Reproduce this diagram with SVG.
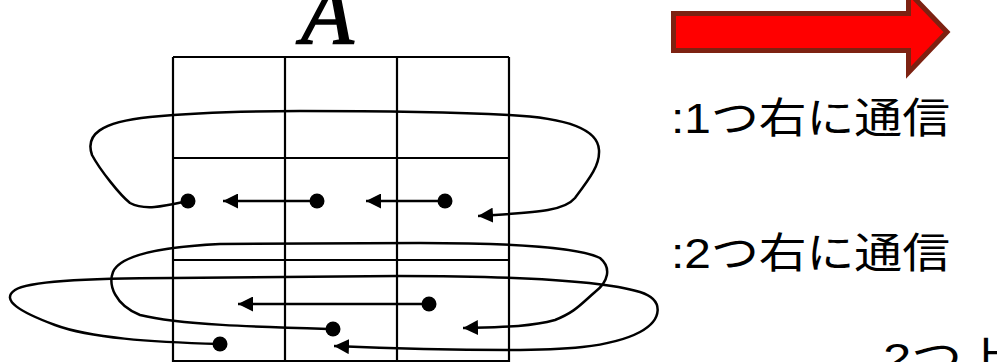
<svg xmlns="http://www.w3.org/2000/svg" width="997" height="362" viewBox="0 0 997 362">
<style>
.grid{stroke:#000;stroke-width:2.2;fill:none}
.conn{stroke:#000;stroke-width:2.5;fill:none}
.dot{fill:#000}
.lbl{font-family:"Liberation Sans","Noto Sans CJK JP",sans-serif;font-size:42px;fill:#000}
.title{font-family:"Liberation Serif",serif;font-style:italic;font-size:86px;fill:#000;stroke:#000;stroke-width:1.6}
</style>
<defs>
<marker id="ah" markerWidth="16" markerHeight="15" refX="15" refY="7.5" orient="auto" markerUnits="userSpaceOnUse">
<path d="M0,0 L15,7.5 L0,15 Z" fill="#000"/>
</marker>
</defs>
<rect width="997" height="362" fill="#fff"/>
<g id="title"><text class="title" x="301" y="43">A</text></g>
<g id="grid" class="grid">
<path d="M173,57 V362 M285,57 V362 M397,57 V362 M509,57 V362"/>
<path d="M173,57 H509 M173,158 H509 M173,260 H509 M173,361 H509"/>
</g>
<g id="legend-arrow">
<path d="M673.5,13.5 H908.5 V-8 L947,32 L908.5,72.5 V50.5 H673.5 Z" fill="#ff0000" stroke="#7d2212" stroke-width="5"/>
</g>
<g id="label1"><text class="lbl" x="671" y="133" textLength="279" lengthAdjust="spacingAndGlyphs">:1つ右に通信</text></g>
<g id="label2"><text class="lbl" x="671" y="268" textLength="279" lengthAdjust="spacingAndGlyphs">:2つ右に通信</text></g>
<g id="label3"><text class="lbl" x="883" y="373" textLength="130" lengthAdjust="spacingAndGlyphs">2つ上</text></g>
<g id="nodes" class="dot">
<circle cx="188" cy="201" r="7.5"/>
<circle cx="317" cy="201" r="7.5"/>
<circle cx="445" cy="201" r="7.5"/>
<circle cx="429" cy="304" r="7.5"/>
<circle cx="333" cy="329" r="7.5"/>
<circle cx="220" cy="344" r="7.5"/>
</g>
<g id="connectors" class="conn">
<path d="M317,201 H223" marker-end="url(#ah)"/>
<path d="M445,201 H366" marker-end="url(#ah)"/>
<path d="M429,304 H238" marker-end="url(#ah)"/>
<path d="M188,201 C165,206 145,211 130,203 C120,195 100,170 92,155 C85,135 100,122 150,117 C200,112 250,111 300,111 C380,111 450,112 509,115 C570,118 598,130 599,150 C600,165 590,178 575,198 C565,210 545,212 478,216" marker-end="url(#ah)"/>
<path d="M333,329 C260,327 180,325 140,315 C115,305 108,285 113,272 C120,255 160,247 220,244 L420,243 C520,243 580,248 600,258 C612,268 608,282 595,292 C580,305 575,312 555,320 C530,327 500,327 463,328" marker-end="url(#ah)"/>
<path d="M220,344 C150,342 90,338 55,325 C20,312 0,300 15,290 C30,280 100,278 173,278 L397,276 C500,276 600,280 640,292 C665,300 662,320 640,332 C610,348 560,350 509,350 C450,350 380,348 334,346" marker-end="url(#ah)"/>
</g>
</svg>
